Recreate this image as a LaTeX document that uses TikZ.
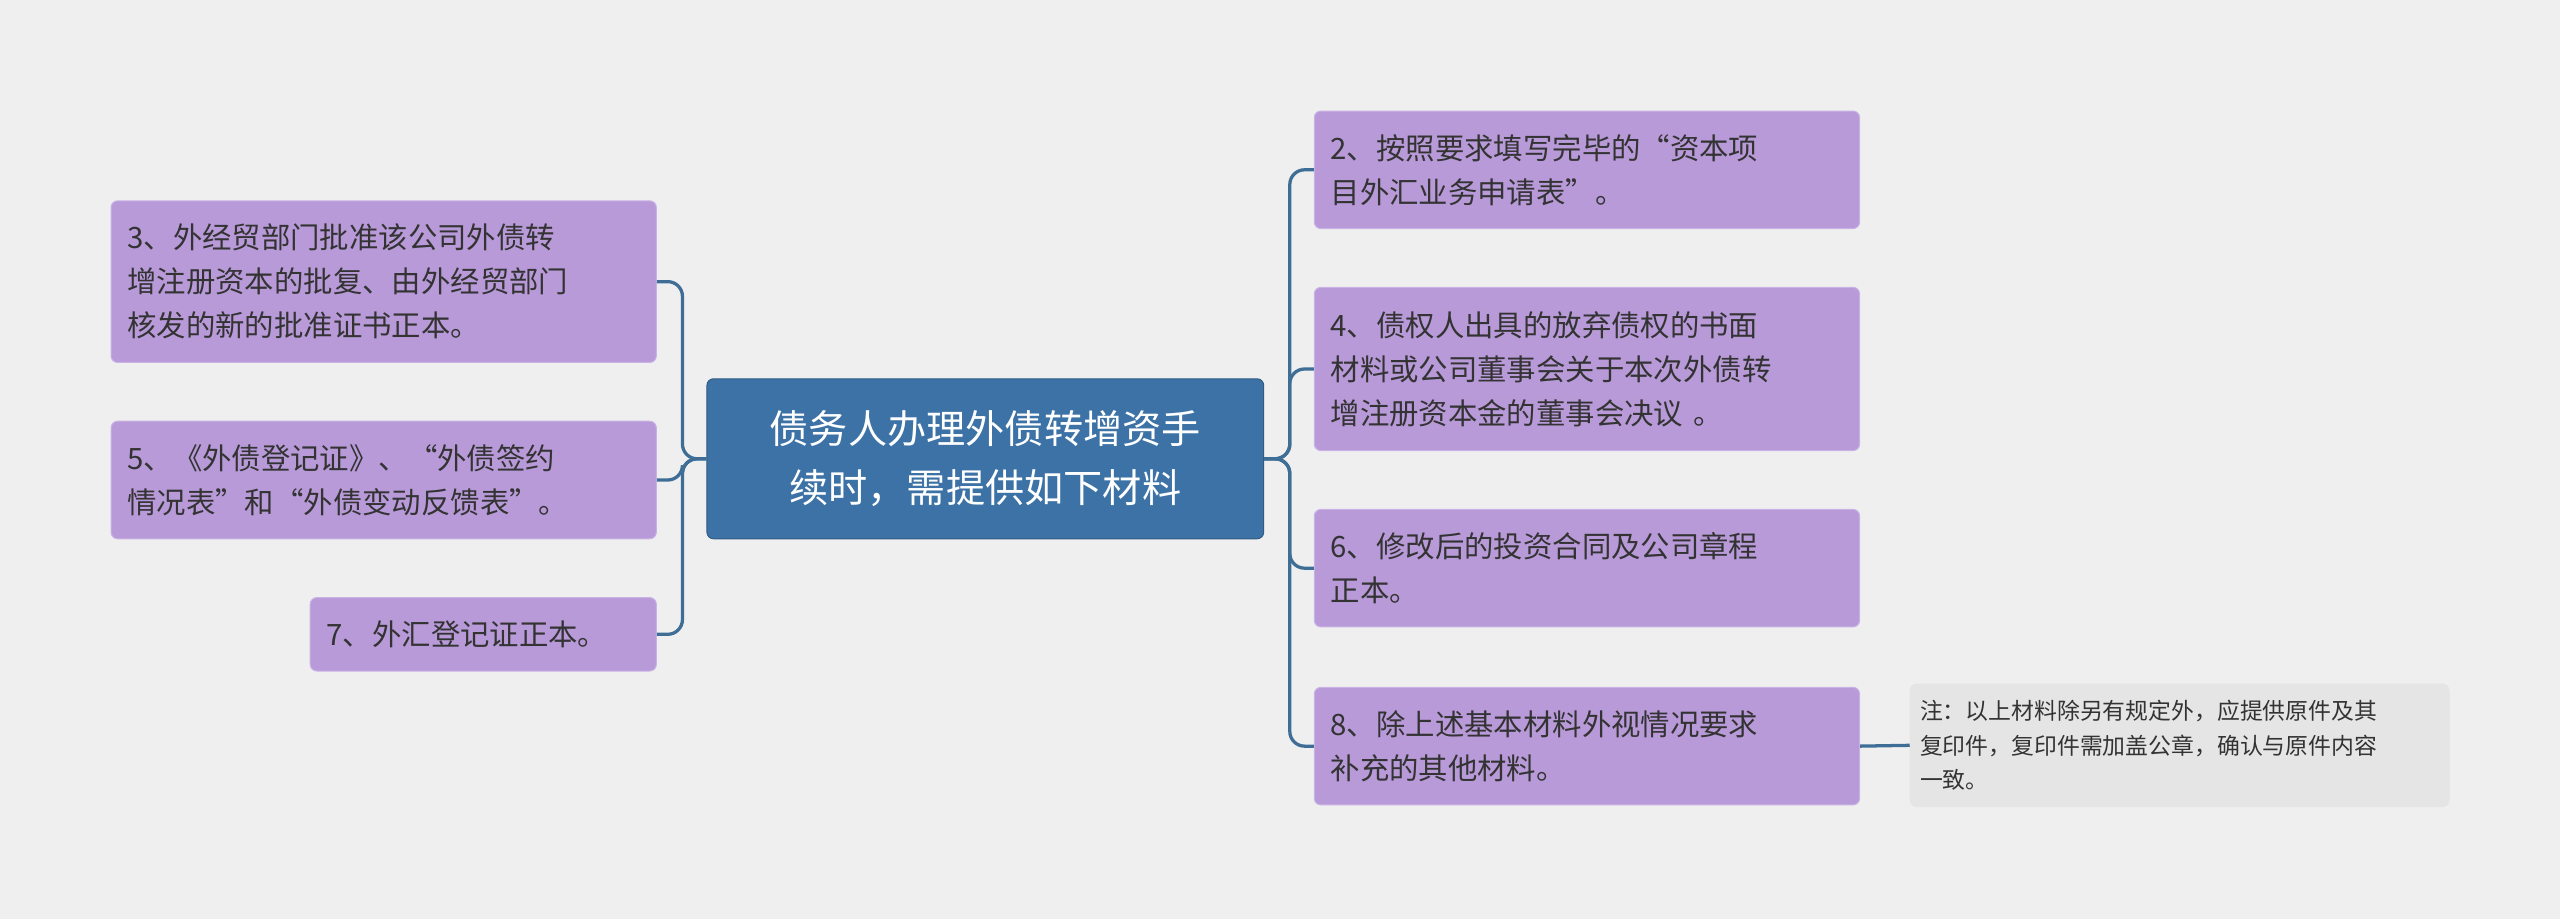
\documentclass[tikz,border=0pt]{standalone}
\usepackage{fontspec}
\setmainfont{Noto Sans CJK SC}
\begin{document}
\begin{tikzpicture}[x=1pt,y=-1pt,
 box/.style={fill=purple!0!white, fill=boxc, draw=boxd, line width=0.6pt, rounded corners=4pt, align=left, font=\fontsize{18}{27}\selectfont, text=txt, inner xsep=10pt, inner ysep=0pt, anchor=center},
 conn/.style={draw=lnc, line width=2pt, rounded corners=9pt}]
\definecolor{bg}{HTML}{EFEFEF}
\definecolor{boxc}{HTML}{B89AD9}
\definecolor{boxd}{HTML}{C9B3E6}
\definecolor{txt}{HTML}{333333}
\definecolor{lnc}{HTML}{3E6E96}
\definecolor{cen}{HTML}{3C72A5}
\definecolor{note}{HTML}{E5E5E5}
\fill[bg] (0,0) rectangle (1568,563);
\useasboundingbox (0,0) rectangle (1568,563);
\node[box, fill=cen, draw=cen!80!black, text=white, align=center, font=\fontsize{24}{36}\selectfont, minimum width=341pt, minimum height=98pt, text width=321pt] (c) at (603.5,281) {债务人办理外债转增资手\\续时，需提供如下材料};
\node[box, minimum width=334pt, minimum height=99pt, text width=314pt] (l1) at (235,172.5) {3、外经贸部门批准该公司外债转\\增注册资本的批复、由外经贸部门\\核发的新的批准证书正本。};
\node[box, minimum width=334pt, minimum height=72pt, text width=314pt] (l2) at (235,294) {5、《外债登记证》、“外债签约\\情况表”和“外债变动反馈表”。};
\node[box, minimum width=212pt, minimum height=45pt, text width=192pt] (l3) at (296,388.5) {7、外汇登记证正本。};
\node[box, minimum width=334pt, minimum height=72pt, text width=314pt] (r1) at (972,104) {2、按照要求填写完毕的“资本项\\目外汇业务申请表”。};
\node[box, minimum width=334pt, minimum height=100pt, text width=314pt] (r2) at (972,226) {4、债权人出具的放弃债权的书面\\材料或公司董事会关于本次外债转\\增注册资本金的董事会决议 。};
\node[box, minimum width=334pt, minimum height=72pt, text width=314pt] (r3) at (972,348) {6、修改后的投资合同及公司章程\\正本。};
\node[box, minimum width=334pt, minimum height=72pt, text width=314pt] (r4) at (972,457) {8、除上述基本材料外视情况要求\\补充的其他材料。};
\node[box, fill=note, draw=note, minimum width=330pt, minimum height=75pt, text width=318pt, inner xsep=6pt, font=\fontsize{14}{21}\selectfont] (n) at (1335,456.5) {注：以上材料除另有规定外，应提供原件及其\\复印件，复印件需加盖公章，确认与原件内容\\一致。};
\begin{scope}[on background layer/.try]
\end{scope}
\draw[conn] (c.west) -- (418,281) |- (l1.east);
\draw[conn] (c.west) -- (418,281) |- (l2.east);
\draw[conn] (c.west) -- (418,281) |- (l3.east);
\draw[conn] (c.east) -- (790,281) |- (r1.west);
\draw[conn] (c.east) -- (790,281) |- (r2.west);
\draw[conn] (c.east) -- (790,281) |- (r3.west);
\draw[conn] (c.east) -- (790,281) |- (r4.west);
\draw[conn] (r4.east) -- (n.west);
\end{tikzpicture}
\end{document}
